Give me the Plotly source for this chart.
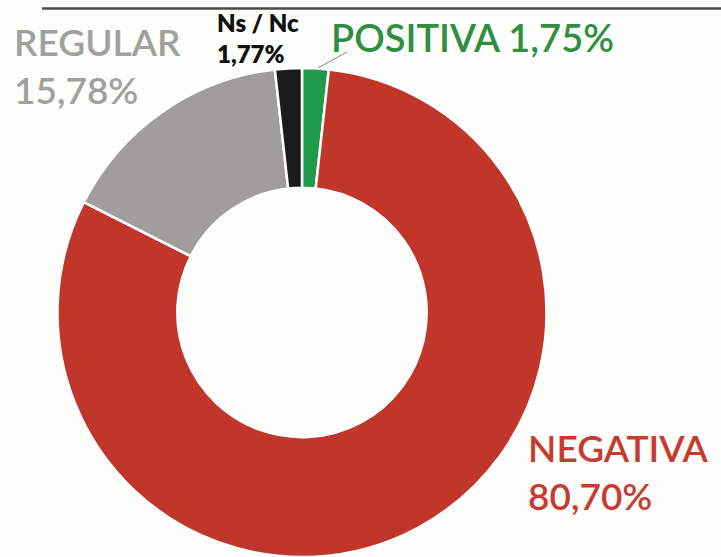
import plotly.graph_objects as go

W, H = 721, 557

labels = ["POSITIVA", "NEGATIVA", "REGULAR", "Ns / Nc"]
values = [1.75, 80.70, 15.78, 1.77]
colors = ["#1f9a4a", "#c0362b", "#a09e9c", "#1b1b1b"]
value_text = ["1,75%", "80,70%", "15,78%", "1,77%"]


def px(x):
    return x / W


def py(y):
    return 1 - y / H


fig = go.Figure(
    go.Pie(
        labels=labels,
        values=values,
        sort=False,
        direction="clockwise",
        rotation=0,
        hole=0.51,
        marker=dict(colors=colors, line=dict(color="#ffffff", width=2.5)),
        textinfo="none",
        hoverinfo="skip",
        showlegend=False,
        domain=dict(x=[px(302 - 245), px(302 + 245)], y=[0, py(68)]),
    )
)


def label(x, y, text, size, color, weight=600):
    fig.add_annotation(
        x=px(x), y=py(y), xanchor="left", yanchor="top",
        text=text, font=dict(family="Lato", size=size, color=color, weight=weight),
        align="left", showarrow=False,
    )


# labels next to the donut
label(12, 17, f"{labels[2]}<br>{value_text[2]}", 37, "#a0a0a0")
label(215, 6, f"{labels[3]}<br>{value_text[3]}", 24, "#111111", weight=800)
label(329, 12, f"{labels[0]} {value_text[0]}", 38, "#2f8f3f")
label(526, 423, f"{labels[1]}<br>{value_text[1]}", 37, "#c93a2e")

# rule at top and leader line for the small slice
fig.add_shape(type="line", xref="paper", yref="paper",
              x0=px(42), x1=1, y0=py(8.5), y1=py(8.5),
              line=dict(color="#4d4a45", width=2.5))
fig.add_shape(type="line", xref="paper", yref="paper",
              x0=px(318), x1=px(347), y0=py(68), y1=py(52),
              line=dict(color="#7a8a78", width=1))

fig.update_layout(
    width=W, height=H,
    margin=dict(l=0, r=0, t=0, b=0),
    paper_bgcolor="#fdfdfb",
    plot_bgcolor="#fdfdfb",
)

fig.write_html("out.html", config={"displayModeBar": False},
               post_script="document.body.style.margin='0';")
